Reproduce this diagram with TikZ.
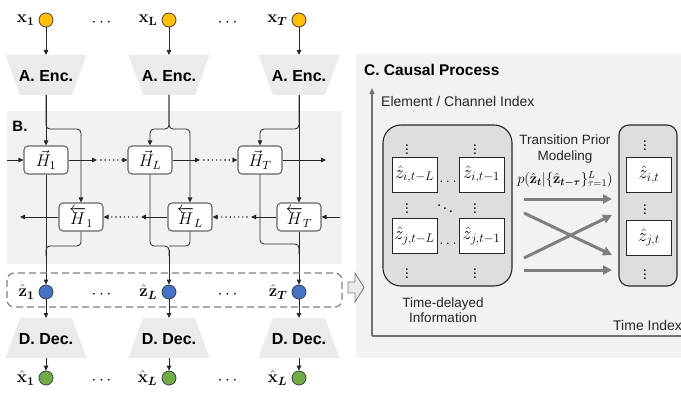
\documentclass[tikz,border=0pt]{standalone}
\usepackage{fix-cm}
\usepackage{amsmath}
\usepackage[no-math]{fontspec}
\setmainfont{Liberation Sans}
\usetikzlibrary{arrows.meta}
\definecolor{panel}{HTML}{F2F2F2}
\definecolor{trap}{HTML}{EBEBEB}
\definecolor{xyellow}{HTML}{FFC000}
\definecolor{zblue}{HTML}{4472C4}
\definecolor{xgreen}{HTML}{70AD47}
\definecolor{dgray}{HTML}{404040}
\definecolor{mgray}{HTML}{7F7F7F}
\definecolor{axgray}{HTML}{767171}
\definecolor{grpgray}{HTML}{DEDEDE}
\begin{document}
\begin{tikzpicture}[x=1pt,y=-1pt,
  >={Triangle[length=5pt,width=4.5pt]},
  conn/.style={draw=black!85,line width=0.8pt},
  dotline/.style={draw=black!85,line width=1.6pt,dash pattern=on 0pt off 4.2pt,line cap=round},
  circ/.style={circle,minimum size=14pt,inner sep=0pt,draw=dgray,line width=0.8pt},
  hbox/.style={draw=dgray!80,line width=1.1pt,fill=white,rounded corners=4pt,minimum width=44pt,minimum height=28pt,inner sep=0pt,font=\fontsize{17}{19}\selectfont},
  bold/.style={font=\fontsize{16}{18}\selectfont\bfseries},
  lab/.style={font=\fontsize{17}{19}\selectfont,inner sep=0pt},
  zbox/.style={draw=black!85,fill=white,line width=0.9pt,minimum width=45pt,minimum height=35pt,inner sep=0pt,font=\fontsize{18}{20}\selectfont},
  grp/.style={draw=black!85,fill=grpgray,line width=1.1pt},
  bigarr/.style={draw=mgray,line width=3pt,-{Triangle[length=9pt,width=9pt]}},
  txt/.style={font=\fontsize{13.5}{15.5}\selectfont,text=black!85},
  vd/.style={font=\fontsize{15}{17}\selectfont,inner sep=0pt}
]
\useasboundingbox (0,0) rectangle (681,396);

% ---------- panel backgrounds ----------
\fill[panel] (7,111) rectangle (342,264);
\fill[panel] (356,54) rectangle (681,358);

% ---------- columns: inputs, encoders, latents, decoders, outputs ----------
\foreach \c/\n in {46/1,169/2,299/3}{
  \fill[trap] (\c-40.5,55) -- (\c+40.5,55) -- (\c+26,95) -- (\c-26,95) -- cycle;
  \node[bold] (E\n) at (\c,76) {A. Enc.};
  \coordinate (Et\n) at (\c,55);
  \coordinate (Eb\n) at (\c,95);
  \fill[trap] (\c-26,318) -- (\c+26,318) -- (\c+40.5,358) -- (\c-40.5,358) -- cycle;
  \node[bold] (D\n) at (\c,339) {D. Dec.};
  \coordinate (Dt\n) at (\c,318);
  \coordinate (Db\n) at (\c,358);
  \node[circ,fill=xyellow] (x\n) at (\c,20) {};
  \node[circ,fill=zblue] (z\n) at (\c,292) {};
  \node[circ,fill=xgreen] (xh\n) at (\c,378) {};
  \draw[conn,->] (x\n) -- (Et\n);
  \draw[conn,->] (z\n) -- (Dt\n);
  \draw[conn,->] (Db\n) -- (xh\n);
}

% labels
\node[lab,anchor=east] (lx1) at ([xshift=-4pt]x1.west) {$\mathbf{x}_{\mathbf{1}}$};
\node[lab,anchor=east] (lx2) at ([xshift=-4pt]x2.west) {$\mathbf{x}_{\mathbf{L}}$};
\node[lab,anchor=east] (lx3) at ([xshift=-4pt]x3.west) {$\mathbf{x}_{\boldsymbol{T}}$};
\node[lab,anchor=east] (lz1) at ([xshift=-4pt]z1.west) {$\hat{\mathbf{z}}_{\mathbf{1}}$};
\node[lab,anchor=east] (lz2) at ([xshift=-4pt]z2.west) {$\hat{\mathbf{z}}_{\boldsymbol{L}}$};
\node[lab,anchor=east] (lz3) at ([xshift=-4pt]z3.west) {$\hat{\mathbf{z}}_{\boldsymbol{T}}$};
\node[lab,anchor=east] (lh1) at ([xshift=-4pt]xh1.west) {$\hat{\mathbf{x}}_{\mathbf{1}}$};
\node[lab,anchor=east] (lh2) at ([xshift=-4pt]xh2.west) {$\hat{\mathbf{x}}_{\boldsymbol{L}}$};
\node[lab,anchor=east] (lh3) at ([xshift=-4pt]xh3.west) {$\hat{\mathbf{x}}_{\boldsymbol{L}}$};
\foreach \y/\m in {23/a,295/b,381/c}{
  \node[lab] (dl\m) at (103,\y) {$\cdots$};
  \node[lab] (dr\m) at (229,\y) {$\cdots$};
}

% ---------- panel B ----------
\node[font=\fontsize{15}{17}\selectfont\bfseries] (Blab) at (20,126) {B.};
\node[hbox] (F1) at (46,160) {$\vec{H}_1$};
\node[hbox] (F2) at (150,160) {$\vec{H}_L$};
\node[hbox] (F3) at (260,160) {$\vec{H}_T$};
\node[hbox] (B1) at (81,217) {$\overleftarrow{H}_1$};
\node[hbox] (B2) at (190,217) {$\overleftarrow{H}_L$};
\node[hbox] (B3) at (299,217) {$\overleftarrow{H}_T$};

% encoder -> hidden states
\draw[conn,->] (Eb1) -- (F1);
\draw[conn,->,rounded corners=4pt] (Eb1) |- (81,129) -- (B1);
\draw[conn,->,rounded corners=4pt] (Eb2) |- (150,129) -- (F2);
\draw[conn,->,rounded corners=4pt] (Eb2) |- (190,129) -- (B2);
\draw[conn,->] (Eb3) -- (B3);
\draw[conn,->,rounded corners=4pt] (Eb3) |- (260,129) -- (F3);

% hidden states -> latents
\draw[conn,->] (F1) -- (z1);
\draw[conn,rounded corners=4pt] (B1) |- (46,246) -- (46,256);
\draw[conn,rounded corners=4pt] (F2) |- (169,246) -- (169,256);
\draw[conn,rounded corners=4pt] (B2) |- (169,246);
\draw[conn,->] (169,250) -- (z2);
\draw[conn,->] (B3) -- (z3);
\draw[conn,rounded corners=4pt] (F3) |- (299,244) -- (299,254);

% forward chain
\coordinate (fin) at (7,160);
\coordinate (fa1) at (97,160);
\coordinate (fa2) at (200,160);
\coordinate (fout) at (326,160);
\draw[conn,->] (fin) -- (F1);
\draw[conn,->] (F1) -- (fa1);
\draw[dotline,->] ([xshift=4pt]fa1) -- (F2);
\draw[conn,->] (F2) -- (fa2);
\draw[dotline,->] ([xshift=4pt]fa2) -- (F3);
\draw[conn,->] (F3) -- (fout);

% backward chain
\coordinate (bin) at (340,217);
\coordinate (ba1) at (251,217);
\coordinate (ba2) at (141,217);
\coordinate (bout) at (20,217);
\draw[conn,->] (bin) -- (B3);
\draw[conn,->] (B3) -- (ba1);
\draw[dotline,->] ([xshift=-4pt]ba1) -- (B2);
\draw[conn,->] (B2) -- (ba2);
\draw[dotline,->] ([xshift=-4pt]ba2) -- (B1);
\draw[conn,->] (B1) -- (bout);

% dashed latent box
\draw[draw=mgray,line width=1.2pt,dash pattern=on 7pt off 4pt,rounded corners=7pt] (7,273) rectangle (342,307);

% hollow arrow
\draw[draw=mgray,fill=white!92!black,line width=0.9pt] (348,282) -- (355,282) -- (355,273) -- (364,287.5) -- (355,302) -- (355,293) -- (348,293) -- cycle;

% ---------- panel C ----------
\node[font=\fontsize{15.5}{18}\selectfont\bfseries,anchor=west,inner sep=0pt] (Ctitle) at (364,70) {C. Causal Process};
\node[font=\fontsize{14}{16}\selectfont,anchor=west,inner sep=0pt,text=black!85] (elab) at (381,101) {Element / Channel Index};
\coordinate (orig) at (372,336);
\coordinate (ytop) at (372,88);
\coordinate (xend) at (681,336);
\draw[draw=axgray,line width=1.6pt,-{Triangle[length=6pt,width=5pt]}] (orig) -- (ytop);
\draw[draw=axgray,line width=1.6pt] (orig) -- (xend);

\node[grp,rounded corners=18pt,minimum width=129pt,minimum height=161pt] (past) at (447.5,205.5) {};
\node[grp,rounded corners=10pt,minimum width=58pt,minimum height=161pt] (pres) at (648,205.5) {};

\node[zbox] (ziL) at (414.5,174.5) {$\hat{z}_{i,t-L}$};
\node[zbox] (zi1) at (481.5,174.5) {$\hat{z}_{i,t-1}$};
\node[zbox] (zjL) at (414.5,236) {$\hat{z}_{j,t-L}$};
\node[zbox] (zj1) at (481.5,236) {$\hat{z}_{j,t-1}$};
\node[zbox] (zit) at (649,175) {$\hat{z}_{i,t}$};
\node[zbox] (zjt) at (649,237.5) {$\hat{z}_{j,t}$};

\foreach \xx/\yy/\m in {407/147/a,475/147/b,407/206/c,475/206/d,407/271/e,475/271/f,645/143/g,645/207/h,645/272/i}{
  \node[vd] (vd\m) at (\xx,\yy) {$\vdots$};
}
\node[vd] (dd) at (445,206) {$\ddots$};
\node[vd] (hd1) at (448,182) {$\ldots$};
\node[vd] (hd2) at (448,244) {$\ldots$};

\node[txt,align=center] (trans) at (565,149) {Transition Prior\\Modeling};
\node[font=\fontsize{14.5}{16}\selectfont,inner sep=0pt] (form) at (565,179) {$p(\hat{\mathbf{z}}_{\boldsymbol{t}}|\{\hat{\mathbf{z}}_{\boldsymbol{t-\tau}}\}_{\tau=1}^{L})$};

\coordinate (s1) at (524,199); \coordinate (e1) at (612,199);
\coordinate (s2) at (524,213); \coordinate (e2) at (612,255);
\coordinate (s3) at (524,258); \coordinate (e3) at (612,215);
\coordinate (s4) at (524,270); \coordinate (e4) at (612,270);
\draw[bigarr] (s1) -- (e1);
\draw[bigarr] (s2) -- (e2);
\draw[bigarr] (s3) -- (e3);
\draw[bigarr] (s4) -- (e4);

\node[txt,align=center] (tdi) at (443,310) {Time-delayed\\Information};
\node[txt,anchor=west,inner sep=0pt,font=\fontsize{14}{16}\selectfont] (tix) at (613,325) {Time Index};
\end{tikzpicture}
\end{document}
